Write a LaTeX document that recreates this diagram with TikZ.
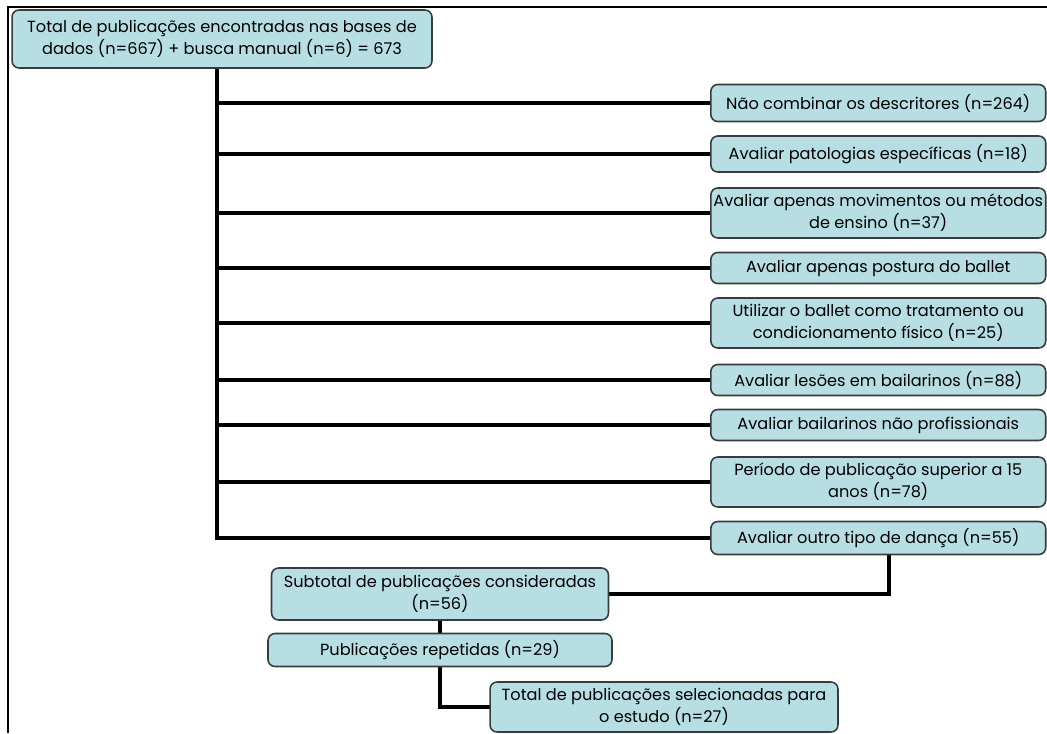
\documentclass[tikz,border=0pt]{standalone}
\usepackage{fontspec}
\setmainfont{Poppins}
\usepackage{tikz}
\usetikzlibrary{positioning,backgrounds}
\definecolor{boxfill}{RGB}{183,222,226}
\definecolor{boxline}{RGB}{55,60,62}

\begin{document}
\begin{tikzpicture}[x=0.02cm,y=-0.02cm,
  box/.style={draw=boxline,line width=0.9pt,fill=boxfill,rounded corners=4pt,
    align=center,inner sep=1pt,font=\fontsize{9.2}{12.5}\selectfont},
  rbox/.style={box,anchor=west,minimum width=6.7cm},
  link/.style={line width=2.5pt,line cap=rect}]
  \useasboundingbox (0,0) rectangle (1047,733);
  \draw[line width=1.1pt] (1047,7) -- (8,7) -- (8,733);
  % source
  \node[box,minimum width=8.4cm,minimum height=1.16cm] (top) at (222,39)
    {Total de publicações encontradas nas bases de\\dados (n=667) + busca manual (n=6) = 673};
  % exclusions
  \node[rbox,minimum height=0.74cm] (b1) at (710,103) {Não combinar os descritores (n=264)};
  \node[rbox,minimum height=0.72cm] (b2) at (710,154) {Avaliar patologias específicas (n=18)};
  \node[rbox,minimum height=1.0cm] (b3) at (710,213) {Avaliar apenas movimentos ou métodos\\de ensino (n=37)};
  \node[rbox,minimum height=0.62cm] (b4) at (710,268) {Avaliar apenas postura do ballet};
  \node[rbox,minimum height=1.0cm] (b5) at (710,323) {Utilizar o ballet como tratamento ou\\condicionamento físico (n=25)};
  \node[rbox,minimum height=0.62cm] (b6) at (710,380) {Avaliar lesões em bailarinos (n=88)};
  \node[rbox,minimum height=0.62cm] (b7) at (710,425) {Avaliar bailarinos não profissionais};
  \node[rbox,minimum height=1.0cm] (b8) at (710,482) {Período de publicação superior a 15\\anos (n=78)};
  \node[rbox,minimum height=0.66cm] (b9) at (710,538) {Avaliar outro tipo de dança (n=55)};
  % results
  \node[box,minimum width=6.74cm,minimum height=1.04cm] (sub) at (440,594)
    {Subtotal de publicações consideradas\\(n=56)};
  \node[box,minimum width=6.88cm,minimum height=0.66cm] (rep) at (440,650)
    {Publicações repetidas (n=29)};
  \node[box,minimum width=6.96cm,minimum height=1.0cm] (tot) at (664,707)
    {Total de publicações selecionadas para\\o estudo (n=27)};
  \begin{pgfonlayer}{background}
  \foreach \b in {b1,b2,b3,b4,b5,b6,b7,b8,b9}
    \draw[link] ([xshift=-3]top.south) |- (\b.west);
  \draw[link] ([xshift=6]b9.south) |- (sub.east);
  \draw[link] (sub.south) -- (rep.north);
  \draw[link] (rep.south) |- (tot.west);
  \end{pgfonlayer}
\end{tikzpicture}
\end{document}
